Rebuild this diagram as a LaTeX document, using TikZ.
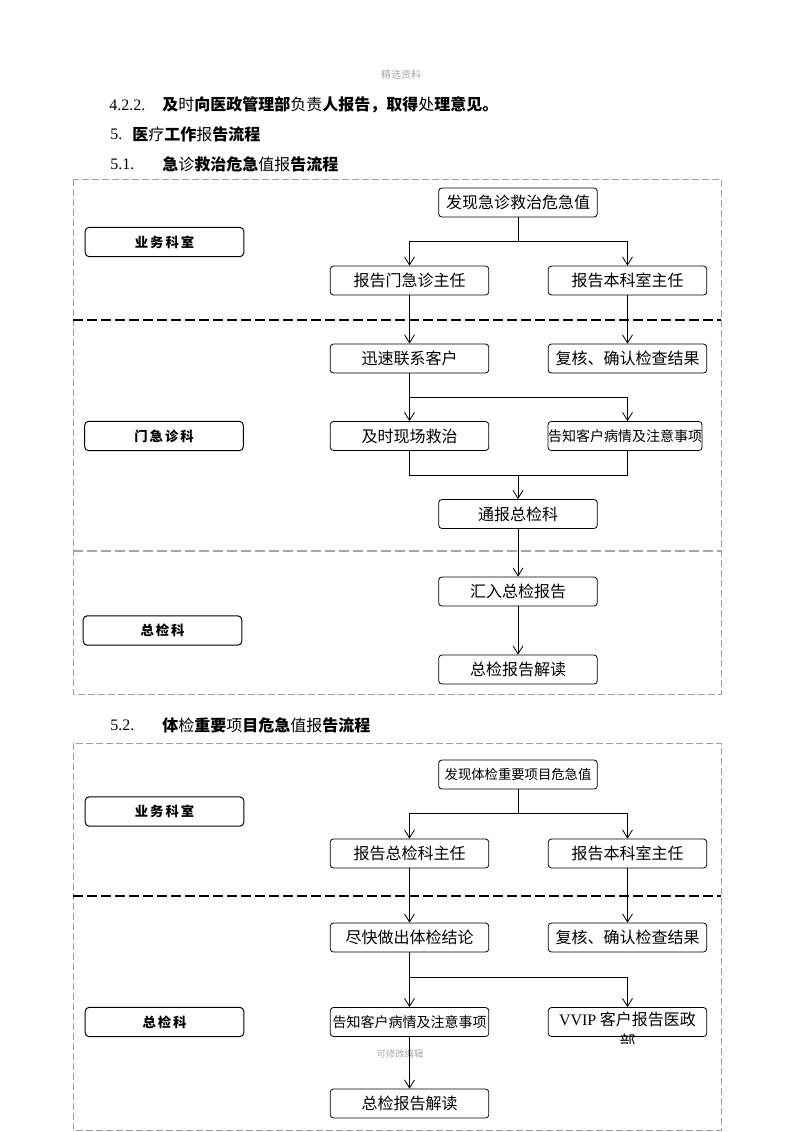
\documentclass[tikz,border=0pt]{standalone}
\usepackage{fontspec}
\setmainfont{Liberation Serif}
\newfontfamily\cjk{Noto Sans CJK SC}
\newfontfamily\lanefont[LetterSpace=15]{Noto Sans CJK SC}
\usetikzlibrary{arrows.meta}
\tikzstyle{flowbox} = [rectangle, rounded corners=2.5pt,
                       minimum width=119pt, minimum height=21.75pt,
                       inner sep=0pt, text centered, draw=black,
                       line width=0.6pt, font=\cjk\fontsize{12}{14}\selectfont]
\tikzstyle{smallbox} = [flowbox, font=\cjk\fontsize{10.5}{12}\selectfont]
\tikzstyle{lanebox} = [rectangle, rounded corners=3pt,
                       minimum width=119pt, minimum height=22pt,
                       inner sep=0pt, draw=black, line width=0.75pt,
                       font=\lanefont\bfseries\fontsize{10}{12}\selectfont]
\tikzstyle{arrow} = [line width=0.6pt,-{Straight Barb[length=6pt,width=7.5pt]}]
\tikzstyle{joinline} = [line width=0.6pt]
\tikzstyle{lanesep} = [line width=1.1pt, dash pattern=on 7.5pt off 3pt]
\tikzstyle{frame} = [draw=gray!75, line width=0.5pt, dash pattern=on 5pt off 2.5pt]
\tikzstyle{numtext} = [anchor=west, inner sep=0pt, font=\fontsize{12}{14}\selectfont]
\tikzstyle{headtext} = [anchor=west, inner sep=0pt, font=\cjk\fontsize{12}{14}\selectfont]
\tikzstyle{faint} = [inner sep=0pt, text=gray!70, font=\cjk\fontsize{7.5}{9}\selectfont]
\begin{document}
\begin{tikzpicture}[x=0.75pt, y=-0.75pt]
        \useasboundingbox (0,0) rectangle (800,1132);

        % page text
        \node (mark1) [faint] at (401,75) {精选资料};
        \node (num1) [numtext] at (109,105) {4.2.2.};
        \node (head1) [headtext] at (162,105) {\textbf{及}时\textbf{向医政管理部}负责\textbf{人报告，取得}处\textbf{理意见。}};
        \node (num2) [numtext] at (110,134) {5.};
        \node (head2) [headtext] at (132,134) {\textbf{医}疗\textbf{工作}报\textbf{告流程}};
        \node (num3) [numtext] at (110,164) {5.1.};
        \node (head3) [headtext] at (162,164) {\textbf{急}诊\textbf{救治危急}值报\textbf{告流程}};
        \node (num4) [numtext] at (110,725) {5.2.};
        \node (head4) [headtext] at (162,725) {\textbf{体}检\textbf{重要}项\textbf{目危急}值报\textbf{告流程}};

        % 5.1 lanes
        \draw [frame] (73,179) rectangle (721,694);
        \draw [lanesep] (73,320) -- (721,320);
        \draw [lanesep, gray!70] (73,551) -- (721,551);
        \node (laneA) [lanebox] at (164.5,242) {业务科室};
        \node (laneB) [lanebox] at (164,436) {门急诊科};
        \node (laneC) [lanebox] at (162.5,630.5) {总检科};

        % 5.1 steps
        \node (find) [flowbox] at (518,202.5) {发现急诊救治危急值};
        \node (toEmerg) [flowbox] at (409.5,280.5) {报告门急诊主任};
        \node (toDept) [flowbox] at (627.5,280.5) {报告本科室主任};
        \node (contact) [flowbox] at (409.5,358.5) {迅速联系客户};
        \node (recheck) [flowbox] at (627.5,358.5) {复核、确认检查结果};
        \node (rescue) [flowbox] at (409.5,436) {及时现场救治};
        \node (inform) [smallbox, minimum width=115.5pt] at (625,436) {告知客户病情及注意事项};
        \node (notify) [flowbox] at (518,514) {通报总检科};
        \node (merge) [flowbox] at (518,591.5) {汇入总检报告};
        \node (explain) [flowbox] at (518,669.5) {总检报告解读};

        \draw [joinline] (find.south) -- ++(0,24) coordinate (split1);
        \draw [arrow] (split1) -| (toEmerg.north);
        \draw [arrow] (split1) -| (toDept.north);
        \draw [arrow] (toEmerg) -- (contact);
        \draw [arrow] (toDept) -- (recheck);
        \draw [joinline] (contact.south) -- ++(0,24) coordinate (split2);
        \draw [arrow] (split2) -- (rescue.north);
        \draw [arrow] (split2) -| (inform.north -| toDept.north);
        \coordinate (join1) at (518,475);
        \draw [joinline] (rescue.south) |- (join1);
        \draw [joinline] (inform.south -| toDept.south) |- (join1);
        \draw [arrow] (join1) -- (notify.north);
        \draw [arrow] (notify) -- (merge);
        \draw [arrow] (merge) -- (explain);

        % 5.2 lanes
        \draw [frame] (73,743) rectangle (721,1130);
        \draw [lanesep] (73,896) -- (721,896);
        \node (laneD) [lanebox] at (164.5,811.5) {业务科室};
        \node (laneE) [lanebox] at (164.5,1022) {总检科};

        % 5.2 steps
        \node (findB) [flowbox, font=\cjk\fontsize{10}{12}\selectfont] at (518,774.5) {发现体检重要项目危急值};
        \node (toCheck) [flowbox] at (409.5,853.5) {报告总检科主任};
        \node (toDeptB) [flowbox] at (627.5,853.5) {报告本科室主任};
        \node (conclude) [flowbox] at (409.5,937.5) {尽快做出体检结论};
        \node (recheckB) [flowbox] at (627.5,937.5) {复核、确认检查结果};
        \node (informB) [smallbox] at (409.5,1022) {告知客户病情及注意事项};
        \node (vvip) [flowbox] at (627.5,1022) {};
        \node (vviptext) [inner sep=0pt, font=\cjk\fontsize{12}{14}\selectfont] at (627.5,1019) {{\rmfamily VVIP} 客户报告医政};
        \begin{scope}
            \clip (548,1031) rectangle (707,1043);
            \node (vvipcut) [inner sep=0pt, font=\cjk\fontsize{12}{14}\selectfont] at (627.5,1041) {部};
        \end{scope}
        \node (explainB) [flowbox] at (409.5,1103.5) {总检报告解读};
        \node (mark2) [faint, font=\cjk\fontsize{7}{8}\selectfont] at (400,1054) {可修改编辑};

        \draw [joinline] (findB.south) -- ++(0,24) coordinate (split3);
        \draw [arrow] (split3) -| (toCheck.north);
        \draw [arrow] (split3) -| (toDeptB.north);
        \draw [arrow] (toCheck) -- (conclude);
        \draw [arrow] (toDeptB) -- (recheckB);
        \draw [joinline] (conclude.south) -- ++(0,25) coordinate (split4);
        \draw [arrow] (split4) -- (informB.north);
        \draw [arrow] (split4) -| (vvip.north);
        \draw [arrow] (informB) -- (explainB);

    \end{tikzpicture}
\end{document}
